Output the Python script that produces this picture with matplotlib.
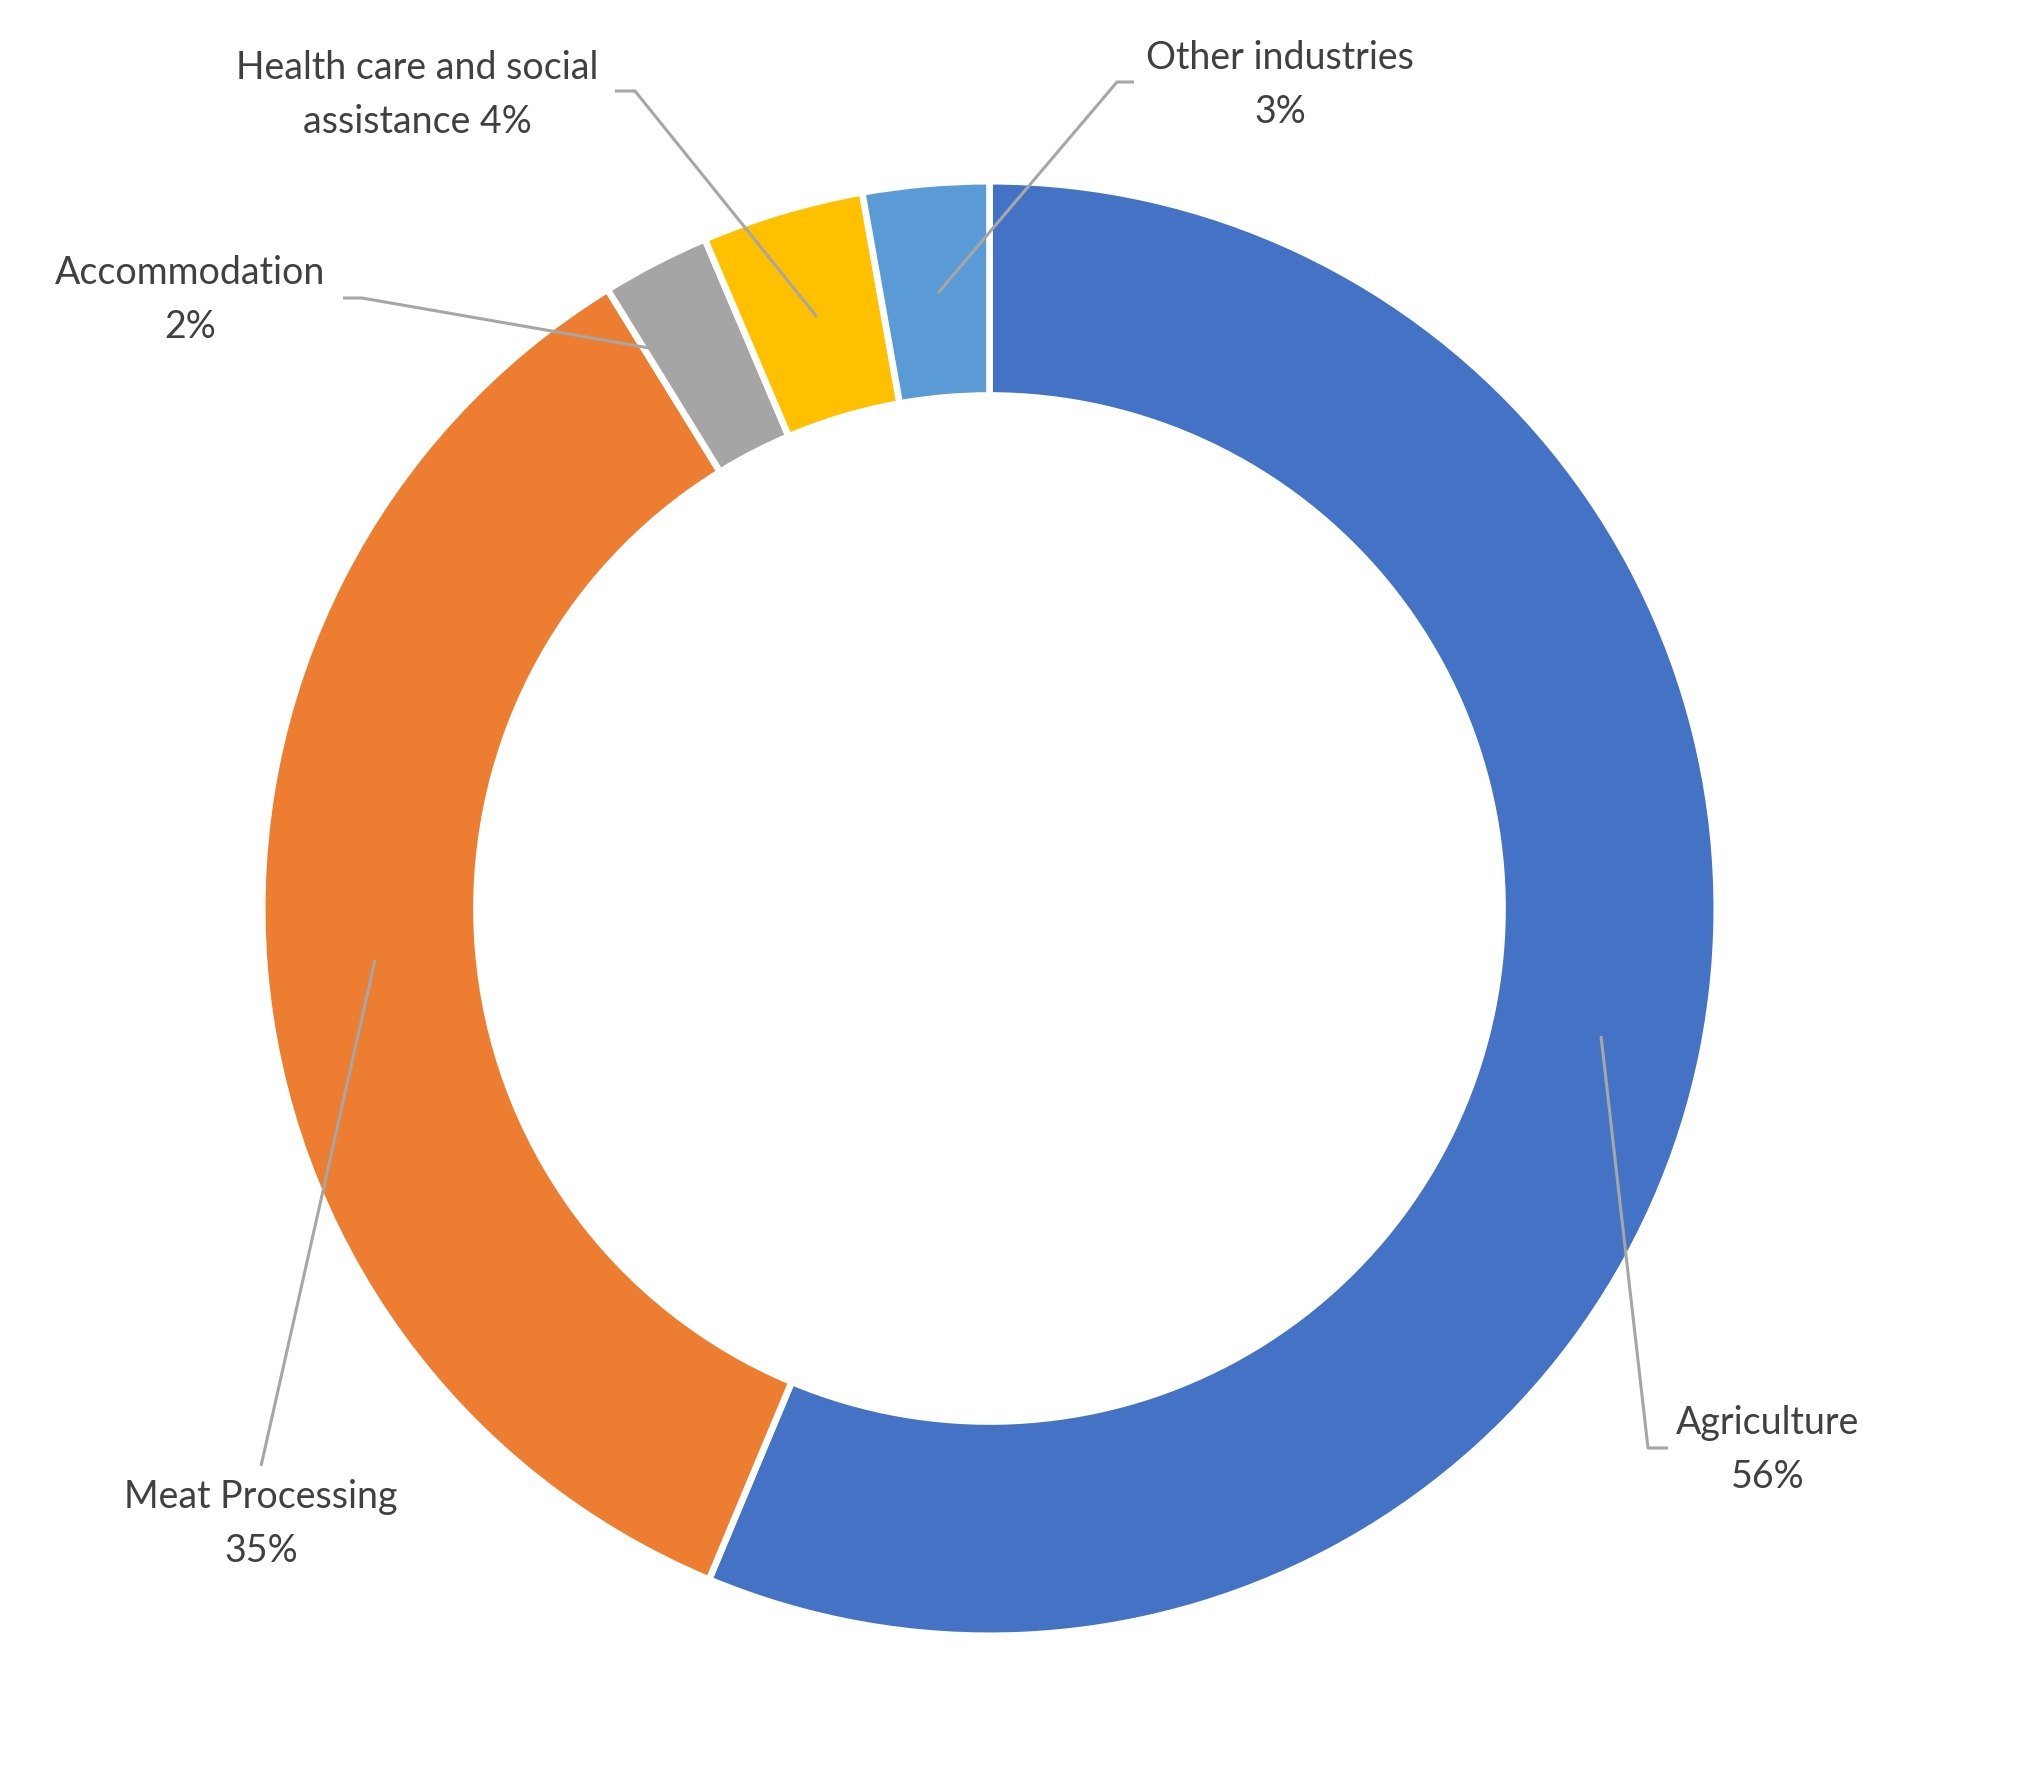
import matplotlib
matplotlib.use("Agg")
import matplotlib.pyplot as plt

# industry shares (percent)
industries = ["Agriculture", "Meat Processing", "Accommodation",
              "Health care and social\nassistance", "Other industries"]
shares = [56.3, 34.9, 2.4, 3.6, 2.8]
colors = ["#4472C4", "#ED7D31", "#A5A5A5", "#FFC000", "#5B9BD5"]

# pie geometry in image pixels
W, H = 2035, 1772
CX, CY, R = 989.5, 908.5, 724.0
HOLE = 513.0 / R


def px(x, y):
    # image pixel -> data units (pie radius = 1)
    return (x - CX) / R, (CY - y) / R


fig = plt.figure(figsize=(W / 100, H / 100), dpi=100)
ax = fig.add_axes([0, 0, 1, 1])

edge = 4.8  # points
ax.pie(shares, colors=colors, startangle=90, counterclock=False,
       radius=1 + 3.3 / R,
       wedgeprops=dict(width=1 - HOLE + 3.3 / R, edgecolor="white",
                       linewidth=edge))

ax.set_xlim(px(0, 0)[0], px(W, 0)[0])
ax.set_ylim(px(0, H)[1], px(0, 0)[1])
ax.set_aspect("equal")
ax.axis("off")

# label centres and leader lines (image pixels)
label_pos = [(1768, 1450), (261, 1524), (190, 300), (417, 95), (1280, 85)]
leaders = [
    [(1668, 1448), (1648, 1448), (1601, 1036)],
    [(261, 1466), (375, 960)],
    [(343, 298), (362, 298), (655, 349)],
    [(615, 91), (635, 91), (817, 317)],
    [(1134, 82), (1117, 82), (938, 293)],
]

for name, val, (lx, ly), pts in zip(industries, shares, label_pos, leaders):
    pct = f"{round(val):d}%"
    if name.startswith("Health"):
        txt = name + " " + pct
    else:
        txt = name + "\n" + pct
    ax.text(*px(lx, ly), txt, ha="center", va="center", ma="center",
            fontsize=27, family=["Lato", "DejaVu Sans"], color="#404040",
            linespacing=1.62)
    xs = [px(x, y)[0] for x, y in pts]
    ys = [px(x, y)[1] for x, y in pts]
    ax.plot(xs, ys, color="#A6A6A6", linewidth=2.2, solid_capstyle="butt")

fig.savefig("out.png", dpi=100, facecolor="white")
